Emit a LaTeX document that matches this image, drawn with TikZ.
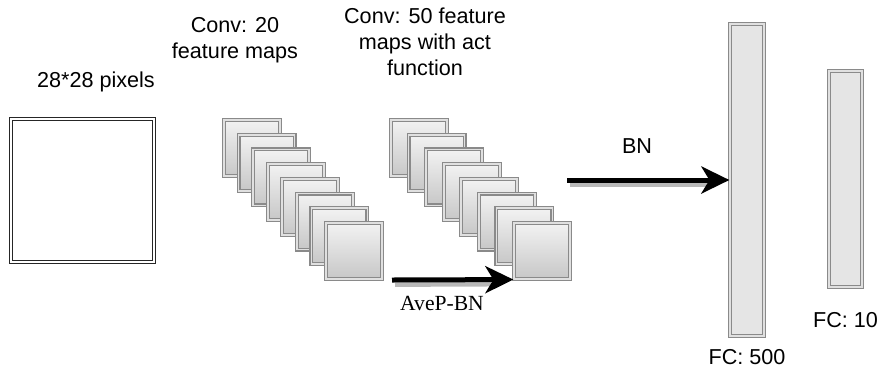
\documentclass[tikz,border=0pt]{standalone}
\usepackage{fontspec}
\setmainfont{Liberation Sans}
\newfontfamily\avepfont{Liberation Serif}
\usetikzlibrary{positioning,arrows.meta}
\tikzstyle{fmap} = [rectangle, draw=black!46, double=black!12, double distance=0.8pt,
    line width=0.6pt, top color=black!5, bottom color=black!22, minimum size=28pt, inner sep=0pt]
\tikzstyle{inputbox} = [rectangle, draw=black!85, double=white, double distance=0.8pt,
    line width=0.6pt, fill=white, minimum size=71.5pt, inner sep=0pt]
\tikzstyle{fcbar} = [rectangle, draw=black!46, double=black!12, double distance=0.8pt,
    line width=0.6pt, fill=black!10, inner sep=0pt]
\tikzstyle{caption} = [font=\fontsize{10.8}{13}\selectfont, align=center, inner sep=0pt]
\tikzstyle{bigarrow} = [-{Stealth[length=14pt, width=13.5pt, inset=4pt]}, line width=2.5pt]
\tikzstyle{arrowshadow} = [draw=black!28, line width=2.5pt]

\begin{document}
\begin{tikzpicture}[x=0.5pt, y=-0.5pt]
  \useasboundingbox (0,0) rectangle (884,371);

  \node [inputbox] (input) at (82.5,190.5) {};
  \node [caption, anchor=base] (inputlabel) at (96,87) {28*28 pixels};

  % first conv stack
  \foreach \i in {1,...,8}
    \node [fmap] (c\i) at ({252+14.57*(\i-1)},{148+14.71*(\i-1)}) {};
  \node [caption, anchor=base] (conv20label) at (235,58) {Conv: 20\\feature maps};

  % second conv stack
  \foreach \i in {1,...,8}
    \node [fmap] (d\i) at ({419+17.57*(\i-1)},{148+14.71*(\i-1)}) {};
  \node [caption, anchor=base] (conv50label) at (425,75) {Conv: 50 feature\\maps with act\\function};

  \node [fcbar, minimum width=17pt, minimum height=156pt] (fc500) at (747,180) {};
  \node [fcbar, minimum width=16.5pt, minimum height=108pt] (fc10) at (845.5,179) {};
  \node [caption, below=6pt of fc500] (fc500label) {FC: 500};
  \node [caption, below=12pt of fc10] (fc10label) {FC: 10};

  \coordinate (avepstart) at (392,280);
  \coordinate (bnstart) at (567,180);
  \draw [arrowshadow] ([xshift=1.5pt, yshift=-2.2pt]avepstart) to ([xshift=-11pt, yshift=-2.2pt]d8.south west);
  \draw [arrowshadow] ([xshift=1.5pt, yshift=-2.2pt]bnstart) to ([xshift=-11pt, yshift=-2.2pt]fc500.west);
  \draw [bigarrow] (avepstart) to (d8.south west);
  \draw [bigarrow] (bnstart) to (fc500.west);
  \node [caption, anchor=base, font=\fontsize{10.8}{13}\avepfont] (aveplabel) at (442,310) {AveP-BN};
  \node [caption, anchor=base] (bnlabel) at (637,153) {BN};
\end{tikzpicture}
\end{document}
